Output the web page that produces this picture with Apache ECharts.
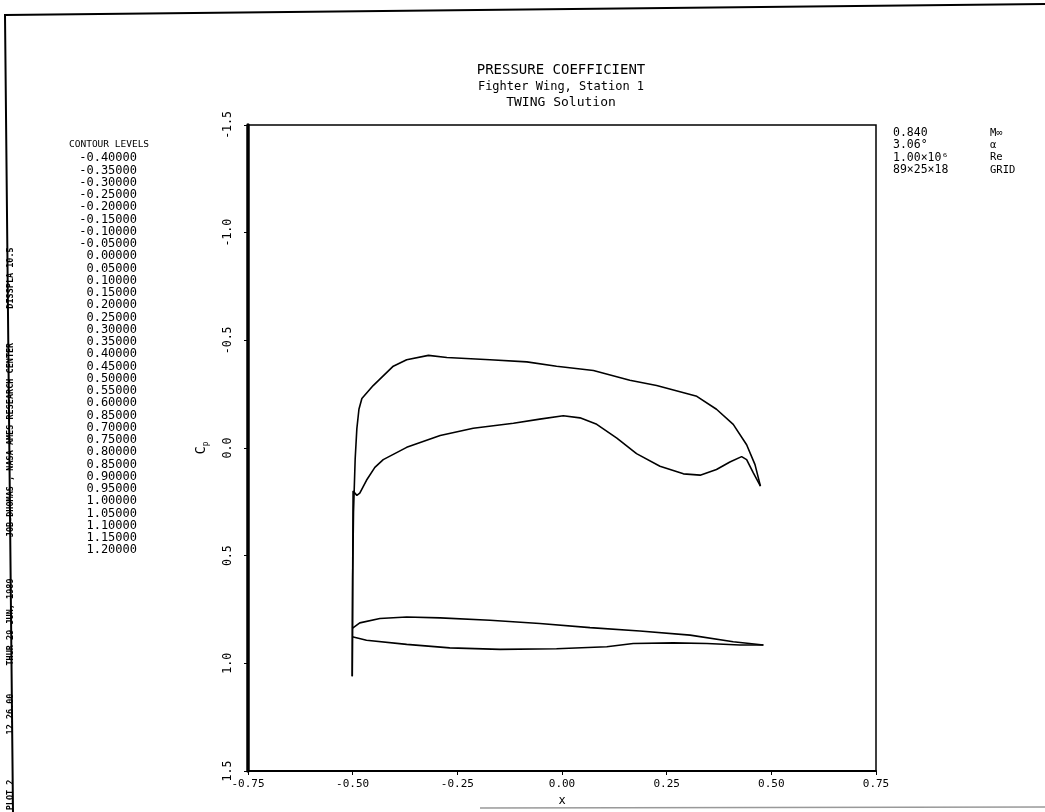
<!DOCTYPE html>
<html>
<head>
<meta charset="utf-8">
<script src="https://cdn.jsdelivr.net/npm/echarts@6/dist/echarts.min.js"></script>
<style>
  html, body { margin: 0; padding: 0; background: #fff; }
  #main { width: 1045px; height: 812px; }
</style>
</head>
<body>
<div id="main"></div>
<script>
// Cp along the chord, upper (suction) side
var xUpper = [-0.501, -0.500, -0.498, -0.494, -0.490, -0.485, -0.478, -0.451, -0.403, -0.371, -0.319, -0.275,
  -0.172, -0.084, -0.013, 0.075, 0.162, 0.226, 0.322, 0.369, 0.409, 0.441, 0.461, 0.474]
var cpUpper = [1.06, 0.60, 0.30, 0.05, -0.09, -0.18, -0.23, -0.29, -0.38, -0.41, -0.43, -0.42,
  -0.41, -0.40, -0.38, -0.36, -0.315, -0.29, -0.24, -0.18, -0.11, -0.015, 0.077, 0.177]

// Cp along the chord, lower side
var xLower = [-0.501, -0.500, -0.499, -0.490, -0.483, -0.467, -0.447, -0.427, -0.371, -0.291, -0.212, -0.116,
  -0.053, 0.003, 0.043, 0.083, 0.131, 0.178, 0.234, 0.290, 0.330, 0.369, 0.401, 0.429, 0.441, 0.457, 0.474]
var cpLower = [1.06, 0.60, 0.20, 0.22, 0.21, 0.15, 0.09, 0.054, -0.003, -0.058, -0.092, -0.115,
  -0.134, -0.15, -0.14, -0.11, -0.046, 0.026, 0.085, 0.12, 0.126, 0.10, 0.065, 0.04, 0.054, 0.115, 0.177]

// section outline drawn under the curves (in plot units)
var xSecUpper = [-0.501, -0.483, -0.435, -0.371, -0.291, -0.172, -0.053, 0.067, 0.186, 0.306, 0.409, 0.481]
var ySecUpper = [0.838, 0.812, 0.792, 0.785, 0.789, 0.800, 0.815, 0.834, 0.850, 0.869, 0.900, 0.915]
var xSecLower = [-0.501, -0.467, -0.371, -0.268, -0.148, -0.013, 0.107, 0.170, 0.266, 0.346, 0.425, 0.481]
var ySecLower = [0.877, 0.893, 0.912, 0.928, 0.935, 0.932, 0.923, 0.908, 0.905, 0.908, 0.915, 0.915]

var contourLevels = ['-0.40000', '-0.35000', '-0.30000', '-0.25000', '-0.20000', '-0.15000', '-0.10000', '-0.05000',
  '0.00000', '0.05000', '0.10000', '0.15000', '0.20000', '0.25000', '0.30000', '0.35000', '0.40000', '0.45000',
  '0.50000', '0.55000', '0.60000', '0.85000', '0.70000', '0.75000', '0.80000', '0.85000', '0.90000', '0.95000',
  '1.00000', '1.05000', '1.10000', '1.15000', '1.20000']

var paramValues = ['0.840', '3.06°', '1.00×10⁶', '89×25×18']
var paramNames = ['M∞', 'α', 'Re', 'GRID']

var mono = 'DejaVu Sans Mono'

function pairs (xs, ys) {
  return xs.map(function (x, i) { return [x, ys[i]] })
}

var lineSeries = function (name, data) {
  return {
    name: name,
    type: 'line',
    data: data,
    symbol: 'none',
    smooth: false,
    lineStyle: { color: '#000', width: 1.6 }
  }
}

var chart = echarts.init(document.getElementById('main'))

var graphics = [
  { type: 'text', style: { text: 'PRESSURE COEFFICIENT', x: 561, y: 70, textAlign: 'center', textVerticalAlign: 'middle', font: '14px ' + mono, fill: '#000' } },
  { type: 'text', style: { text: 'Fighter Wing, Station 1', x: 561, y: 87, textAlign: 'center', textVerticalAlign: 'middle', font: '12px ' + mono, fill: '#000' } },
  { type: 'text', style: { text: 'TWING Solution', x: 561, y: 103, textAlign: 'center', textVerticalAlign: 'middle', font: '13px ' + mono, fill: '#000' } },
  { type: 'text', style: { text: 'CONTOUR LEVELS', x: 69, y: 145, textVerticalAlign: 'middle', font: '9.5px ' + mono, fill: '#000' } },
  { type: 'text', style: { text: contourLevels.join('\n'), x: 137, y: 152, textAlign: 'right', font: '12px ' + mono, lineHeight: 12.25, fill: '#000' } },
  { type: 'text', style: { text: paramValues.join('\n'), x: 893, y: 127, font: '11.5px ' + mono, lineHeight: 12.3, fill: '#000' } },
  { type: 'text', style: { text: paramNames.join('\n'), x: 990, y: 127, font: '10.5px ' + mono, lineHeight: 12.3, fill: '#000' } },
  // page frame
  { type: 'polyline', shape: { points: [[13, 812], [5, 15], [1045, 4]] }, style: { stroke: '#000', lineWidth: 2, fill: null } },
  { type: 'line', shape: { x1: 480, y1: 808, x2: 1045, y2: 807 }, style: { stroke: '#999', lineWidth: 1.5 } }
]

// margin stamp, reading bottom to top
var stamp = [['PLOT 2', 795], ['12.26.00', 714], ['THUR 29 JUN, 1989', 622], ['JOB-DHOMAS , NASA AMES RESEARCH CENTER', 440], ['DISSPLA 10.5', 278]]
stamp.forEach(function (s) {
  graphics.push({
    type: 'text', x: 11, y: s[1], rotation: Math.PI / 2,
    style: { text: s[0], textAlign: 'center', textVerticalAlign: 'middle', font: 'bold 8.5px ' + mono, fill: '#000' }
  })
})

chart.setOption({
  animation: false,
  backgroundColor: '#fff',
  graphic: graphics,
  grid: {
    left: 248, right: 169, top: 125, bottom: 37,
    show: true, borderColor: '#000', borderWidth: 1.5
  },
  xAxis: {
    type: 'value', min: -0.75, max: 0.75, interval: 0.25,
    name: 'x', nameLocation: 'middle', nameGap: 24,
    nameTextStyle: { color: '#000', fontFamily: mono, fontSize: 12 },
    axisLine: { onZero: false, lineStyle: { color: '#000', width: 2 } },
    axisTick: { show: true, length: 4, lineStyle: { color: '#000' } },
    splitLine: { show: false },
    axisLabel: {
      color: '#000', fontFamily: mono, fontSize: 11, margin: 8,
      formatter: function (v) { return v.toFixed(2) }
    }
  },
  yAxis: {
    type: 'value', min: -1.5, max: 1.5, interval: 0.5, inverse: true,
    name: 'C{p|p}', nameLocation: 'middle', nameRotate: 90, nameGap: 38,
    nameTextStyle: {
      color: '#000', fontFamily: mono, fontSize: 14,
      rich: { p: { fontFamily: mono, fontSize: 8, padding: [10, 0, 0, 0] } }
    },
    axisLine: { onZero: false, lineStyle: { color: '#000', width: 3.5 } },
    axisTick: { show: true, length: 4, lineStyle: { color: '#000' } },
    splitLine: { show: false },
    axisLabel: {
      color: '#000', fontFamily: mono, fontSize: 11.5, rotate: 90, margin: 14,
      formatter: function (v) { return v.toFixed(1) }
    }
  },
  series: [
    lineSeries('upper', pairs(xUpper, cpUpper)),
    lineSeries('lower', pairs(xLower, cpLower)),
    lineSeries('section upper', pairs(xSecUpper, ySecUpper)),
    lineSeries('section lower', pairs(xSecLower, ySecLower))
  ]
})
</script>
</body>
</html>
